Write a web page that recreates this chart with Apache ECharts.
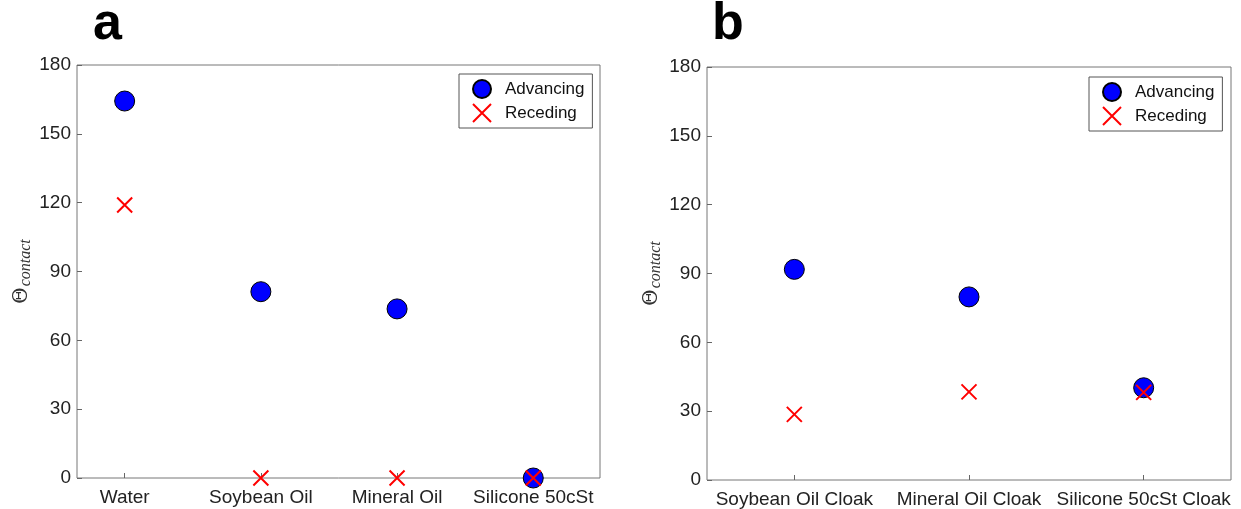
<!DOCTYPE html>
<html>
<head>
<meta charset="utf-8">
<script src="https://cdn.jsdelivr.net/npm/echarts@6/dist/echarts.min.js"></script>
<style>
html,body{margin:0;padding:0;background:#fff;}
#chart{width:1241px;height:509px;}
</style>
</head>
<body>
<div id="chart"></div>
<script>
// ---- data ----
const categoriesA = ['Water', 'Soybean Oil', 'Mineral Oil', 'Silicone 50cSt'];
const advancingA = [164.3, 81.2, 73.7, 0];
const recedingA = [119, 0, 0, 0];

const categoriesB = ['Soybean Oil Cloak', 'Mineral Oil Cloak', 'Silicone 50cSt Cloak'];
const advancingB = [91.8, 79.8, 40.2];
const recedingB = [28.6, 38.4, 38.2];

const yTicks = [0, 30, 60, 90, 120, 150, 180];

// ---- helpers ----
const toPts = arr => arr.map((v, i) => [i + 1, v]);
const idx = arr => arr.map((_, i) => i + 1);
const FONT = '"Liberation Sans", Arial, Helvetica, sans-serif';
const crossPath = 'path://M0,0L10,10M10,0L0,10';

function xAxisFor(gridIndex, cats, min, max) {
  return {
    type: 'value', gridIndex, min, max,
    axisLine: { show: false },
    splitLine: { show: false },
    axisTick: { show: true, inside: true, length: 5, customValues: idx(cats), lineStyle: { color: '#666' } },
    axisLabel: {
      customValues: idx(cats), margin: 10, fontSize: 19, color: '#222', fontFamily: FONT,
      formatter: v => cats[Math.round(v) - 1] || ''
    }
  };
}
function yAxisFor(gridIndex) {
  return {
    type: 'value', gridIndex, min: yTicks[0], max: yTicks[yTicks.length - 1], interval: 30,
    axisLine: { show: false },
    splitLine: { show: false },
    axisTick: { show: true, inside: true, length: 5, lineStyle: { color: '#666' } },
    axisLabel: { margin: 6, fontSize: 19, color: '#222', fontFamily: FONT },
    name: '{t|Θ}{s|contact}',
    nameLocation: 'middle', nameRotate: 90, nameGap: 43,
    nameTextStyle: {
      rich: {
        t: { fontFamily: '"DejaVu Serif", serif', fontSize: 20, color: '#333' },
        s: { fontFamily: '"Liberation Serif", "DejaVu Serif", serif', fontStyle: 'italic', fontSize: 16, color: '#333', padding: [9, 0, 0, 1] }
      }
    }
  };
}
function advSeries(xi, data) {
  return {
    name: 'Advancing', type: 'scatter', xAxisIndex: xi, yAxisIndex: xi,
    data: toPts(data), symbol: 'circle', symbolSize: 20,
    itemStyle: { color: '#0000ff', borderColor: '#000', borderWidth: 1, opacity: 1 }, z: 2
  };
}
function recSeries(xi, data) {
  return {
    name: 'Receding', type: 'scatter', xAxisIndex: xi, yAxisIndex: xi,
    data: toPts(data), symbol: crossPath, symbolSize: 15,
    itemStyle: { color: 'rgba(0,0,0,0)', borderColor: '#ff0000', borderWidth: 2, opacity: 1 }, z: 3
  };
}
function legendAt(left, top) {
  return {
    orient: 'vertical', left, top,
    data: ['Advancing', 'Receding'],
    itemWidth: 36, itemHeight: 18, itemGap: 4,
    padding: [5, 8, 5, 13],
    backgroundColor: '#fff', borderColor: '#555', borderWidth: 1, borderRadius: 0,
    textStyle: { fontSize: 17, color: '#111', fontFamily: FONT },
    selectedMode: false
  };
}

const chart = echarts.init(document.getElementById('chart'), null, { renderer: 'canvas' });
chart.setOption({
  animation: false,
  backgroundColor: '#fff',
  grid: [
    { left: 77, top: 65, right: 641, bottom: 31, show: true, borderColor: '#777', borderWidth: 1, backgroundColor: '#fff' },
    { left: 707, top: 67, right: 10, bottom: 28, show: true, borderColor: '#777', borderWidth: 1, backgroundColor: '#fff' }
  ],
  xAxis: [xAxisFor(0, categoriesA, 0.65, 4.49), xAxisFor(1, categoriesB, 0.5, 3.5)],
  yAxis: [yAxisFor(0), yAxisFor(1)],
  legend: [legendAt(459, 74), legendAt(1089, 77)],
  series: [advSeries(0, advancingA), recSeries(0, recedingA), advSeries(1, advancingB), recSeries(1, recedingB)],
  graphic: [
    { type: 'text', left: 93, top: -1, style: { text: 'a', fontSize: 52, fontWeight: 'bold', fontFamily: FONT, fill: '#000' } },
    { type: 'text', left: 712, top: -1, style: { text: 'b', fontSize: 52, fontWeight: 'bold', fontFamily: FONT, fill: '#000' } }
  ]
});
</script>
</body>
</html>
